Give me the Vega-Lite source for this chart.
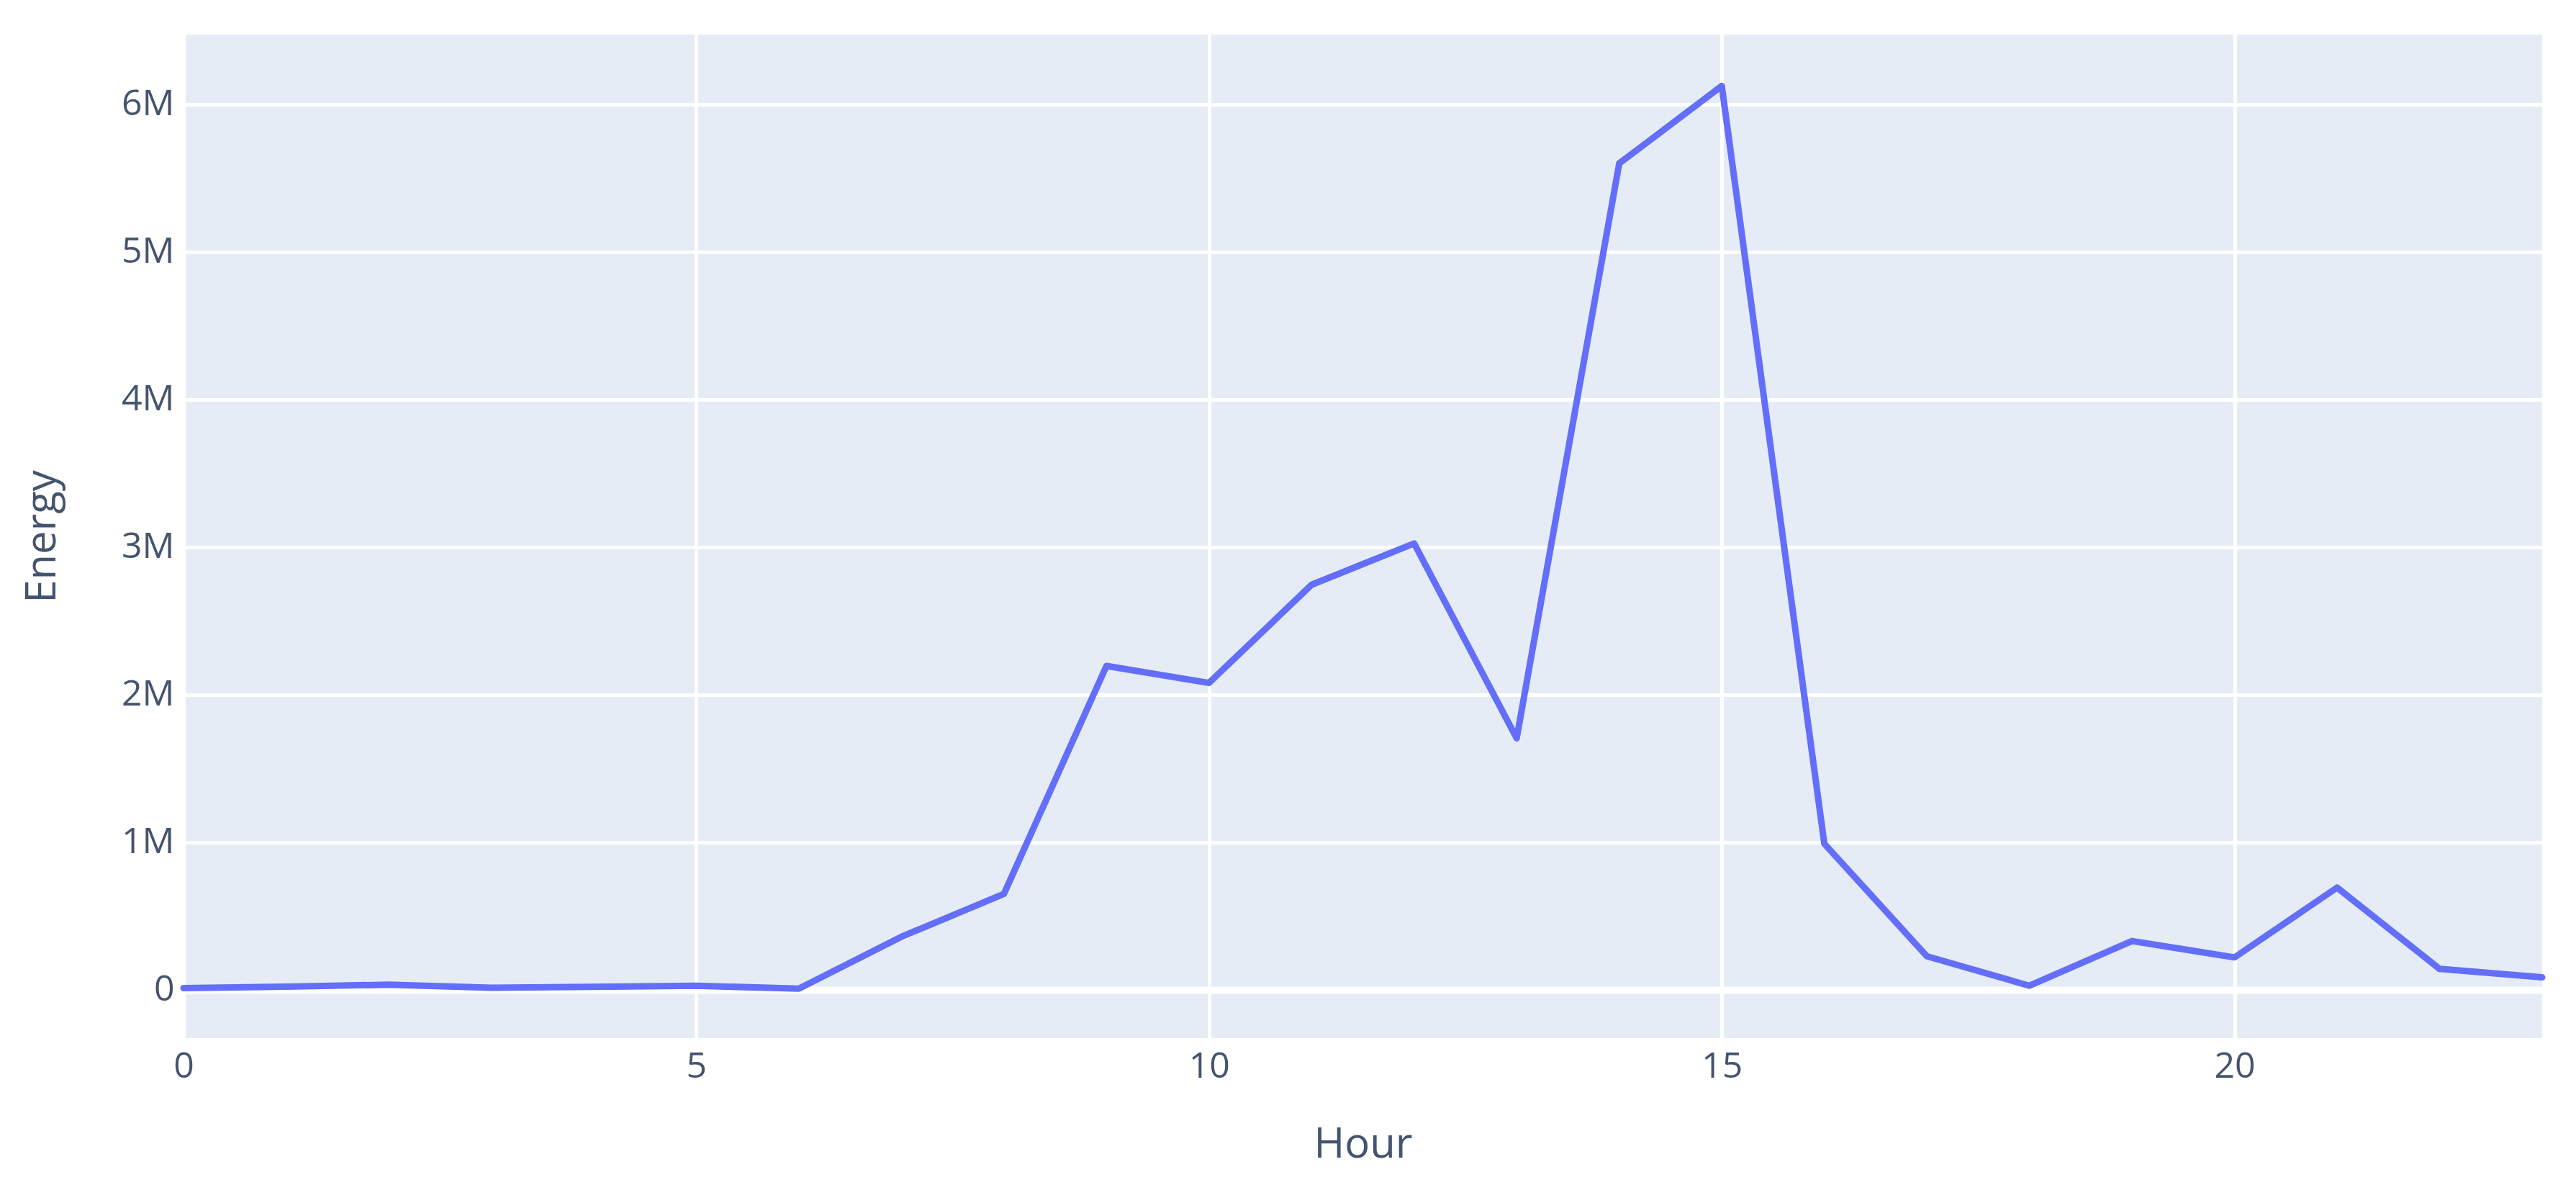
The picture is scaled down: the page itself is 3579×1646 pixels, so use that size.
{
  "$schema": "https://vega.github.io/schema/vega-lite/v6.json",
  "width": 3277,
  "height": 1394,
  "autosize": {"type": "none"},
  "padding": {"left": 255, "top": 48, "right": 47, "bottom": 204},
  "background": "white",
  "config": {
    "view": {"fill": "#E5ECF6", "stroke": null},
    "font": "Open Sans",
    "axis": {
      "domain": false,
      "ticks": false,
      "tickSize": 0,
      "gridColor": "white",
      "gridWidth": 5,
      "labelFont": "Open Sans",
      "labelFontSize": 50,
      "labelColor": "#44546f",
      "titleFont": "Open Sans",
      "titleFontSize": 58,
      "titleFontWeight": "normal",
      "titleColor": "#44546f",
      "labelFlush": false,
      "labelOverlap": false
    }
  },
  "data": {
    "values": [
      {"Hour": 0, "Energy": 12000},
      {"Hour": 1, "Energy": 22000},
      {"Hour": 2, "Energy": 35000},
      {"Hour": 3, "Energy": 15000},
      {"Hour": 4, "Energy": 20000},
      {"Hour": 5, "Energy": 28000},
      {"Hour": 6, "Energy": 8000},
      {"Hour": 7, "Energy": 360000},
      {"Hour": 8, "Energy": 650000},
      {"Hour": 9, "Energy": 2195000},
      {"Hour": 10, "Energy": 2080000},
      {"Hour": 11, "Energy": 2745000},
      {"Hour": 12, "Energy": 3025000},
      {"Hour": 13, "Energy": 1705000},
      {"Hour": 14, "Energy": 5600000},
      {"Hour": 15, "Energy": 6125000},
      {"Hour": 16, "Energy": 990000},
      {"Hour": 17, "Energy": 228000},
      {"Hour": 18, "Energy": 28000},
      {"Hour": 19, "Energy": 331000},
      {"Hour": 20, "Energy": 220000},
      {"Hour": 21, "Energy": 693000},
      {"Hour": 22, "Energy": 142000},
      {"Hour": 23, "Energy": 85000}
    ]
  },
  "mark": {"type": "line", "color": "#636EFA", "strokeWidth": 9, "strokeJoin": "round", "strokeCap": "round"},
  "encoding": {
    "x": {
      "field": "Hour",
      "type": "quantitative",
      "scale": {"domain": [0, 23], "nice": false, "zero": false},
      "axis": {"title": "Hour", "values": [0, 5, 10, 15, 20], "labelPadding": 14, "titlePadding": 55}
    },
    "y": {
      "field": "Energy",
      "type": "quantitative",
      "scale": {"domain": [-327000, 6473000], "nice": false, "zero": false},
      "axis": {
        "title": "Energy",
        "values": [0, 1000000, 2000000, 3000000, 4000000, 5000000, 6000000],
        "labelExpr": "datum.value === 0 ? '0' : format(datum.value, '~s')",
        "labelPadding": 13,
        "titlePadding": 80,
        "gridWidth": {"condition": {"test": "datum.value === 0", "value": 10}, "value": 5}
      }
    }
  }
}
